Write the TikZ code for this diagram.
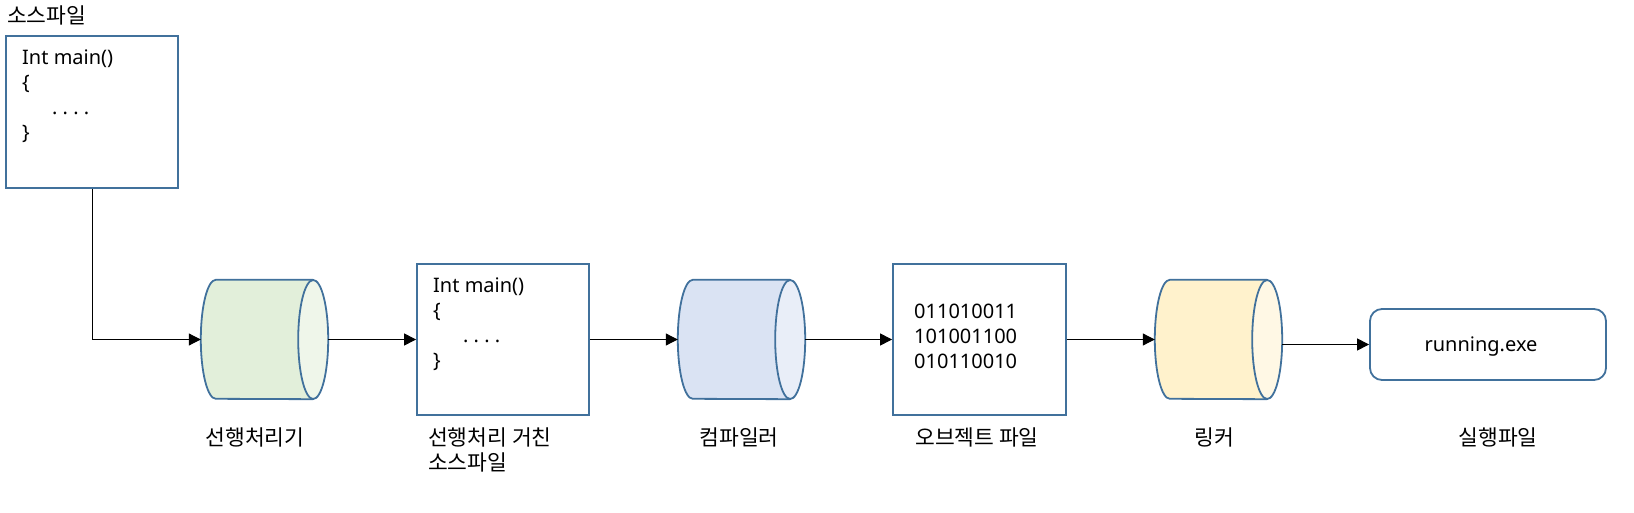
\documentclass[tikz,border=0pt]{standalone}
\usepackage{fontspec}
\setmainfont{Noto Sans}
\newfontfamily\kr{Noto Sans CJK KR}
\usetikzlibrary{arrows.meta,calc}
\definecolor{bordr}{HTML}{41719C}
\definecolor{gbody}{HTML}{E2EFDA}
\definecolor{gcap}{HTML}{EFF6EA}
\definecolor{bbody}{HTML}{DAE3F3}
\definecolor{bcap}{HTML}{E9EEF8}
\definecolor{ybody}{HTML}{FFF2CC}
\definecolor{ycap}{HTML}{FFF8E5}
\newcommand{\drawcyl}[3]{%
  \fill[#2] ([xshift=15pt]#1.north west) arc[start angle=90,end angle=270,x radius=15pt,y radius=59.5pt]
     -- ([xshift=-15pt]#1.south east) -- ([xshift=-15pt]#1.north east) -- cycle;
  \draw[cylline] ([xshift=-15pt]#1.north east) -- ([xshift=15pt]#1.north west)
     arc[start angle=90,end angle=270,x radius=15pt,y radius=59.5pt] -- ([xshift=-15pt]#1.south east);
  \draw[cylline,fill=#3] ([xshift=-15pt]#1.east) ellipse[x radius=15pt,y radius=59.5pt];
}
\begin{document}
\begin{tikzpicture}[x=1pt,y=-1pt,
  every node/.style={font=\fontsize{20pt}{25pt}\selectfont},
  filebox/.style={draw=bordr,line width=1.8pt,fill=white,inner sep=0pt,minimum width=#1},
  filebox/.default=172pt,
  cylnode/.style={inner sep=0pt,minimum width=127pt,minimum height=119pt},
  cylline/.style={draw=bordr,line width=1.8pt},
  codetext/.style={anchor=north west,inner sep=0pt,align=left},
  lbl/.style={inner sep=0pt,font=\kr\fontsize{21.5pt}{25pt}\selectfont},
  arr/.style={-{Triangle[length=12pt,width=12pt]},line width=1pt,black}
]
\useasboundingbox (0,0) rectangle (1634,513);

% source file
\node[lbl,anchor=west] (srclbl) at (7,15) {소스파일};
\node[filebox,minimum height=152pt] (src) at (92,112) {};
\node[codetext] (srctxt) at (22,50) {Int main()\\\{\\\hspace*{30pt}.\ .\ .\ .\\\}};

% preprocessor
\node[cylnode] (c1) at (264.5,339.5) {};
\drawcyl{c1}{gbody}{gcap}
\node[lbl] (c1lbl) at (255,437) {선행처리기};

% preprocessed source
\node[filebox,minimum height=151pt] (pp) at (503,339.5) {};
\node[codetext] (pptxt) at (433,278) {Int main()\\\{\\\hspace*{30pt}.\ .\ .\ .\\\}};
\node[lbl,anchor=west,align=left] (pplbl) at (428,449.5) {선행처리 거친\\소스파일};

% compiler
\node[cylnode] (c2) at (741.5,339.5) {};
\drawcyl{c2}{bbody}{bcap}
\node[lbl] (c2lbl) at (739,437) {컴파일러};

% object file
\node[filebox,minimum width=173pt,minimum height=151pt] (obj) at (979.5,339.5) {};
\node[codetext] (objtxt) at (914,304) {011010011\\101001100\\010110010};
\node[lbl] (objlbl) at (977,437) {오브젝트 파일};

% linker
\node[cylnode] (c3) at (1218.5,339.5) {};
\drawcyl{c3}{ybody}{ycap}
\node[lbl] (c3lbl) at (1214,437) {링커};

% executable
\node[draw=bordr,line width=1.8pt,rounded corners=12pt,minimum width=236pt,minimum height=71pt,inner sep=0pt] (exe) at (1488,344.5) {};
\node[inner sep=0pt] (exetxt) at (1481,347) {running.exe};
\node[lbl] (exelbl) at (1498,437) {실행파일};

% connectors
\draw[arr] (src.south) |- (c1.west);
\draw[arr] (c1.east) -- (pp.west);
\draw[arr] (pp.east) -- (c2.west);
\draw[arr] (c2.east) -- (obj.west);
\draw[arr] (obj.east) -- (c3.west);
\draw[arr] (c3.east |- exe.west) -- (exe.west);
\end{tikzpicture}
\end{document}
